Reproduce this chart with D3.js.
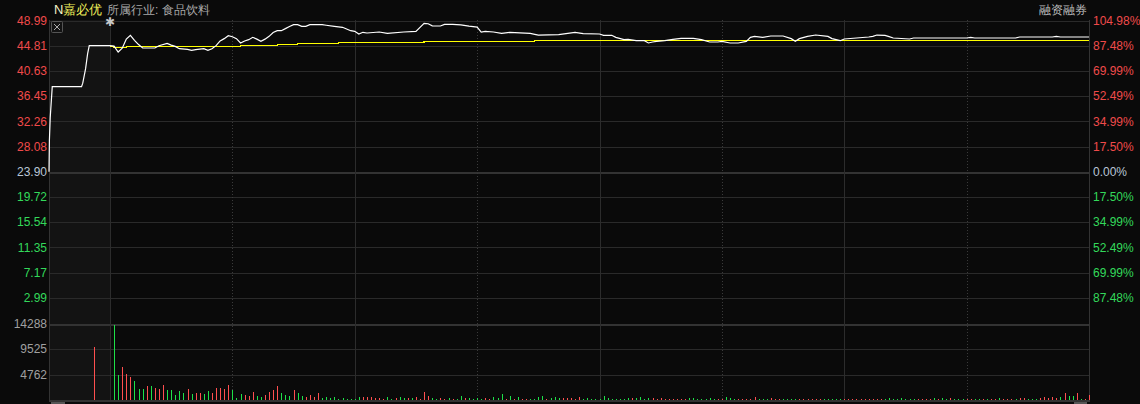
<!DOCTYPE html>
<html><head><meta charset="utf-8">
<script src="https://cdn.jsdelivr.net/npm/d3@7"></script>
<style>
html,body{margin:0;padding:0;background:#0a0a0a;overflow:hidden;}
text{font-family:"Liberation Sans",Arial,sans-serif;}
</style></head>
<body>
<svg id="c" width="1140" height="404"></svg>
<script>
// ---------- data ----------
const stockName = "嘉必优";
const industryText = "所属行业: 食品饮料";
const marginText = "融资融券";
const preClose = 23.90;
const priceTicks = [48.99,44.81,40.63,36.45,32.26,28.08,23.90,19.72,15.54,11.35,7.17,2.99];
const pctLabels = ["104.98%","87.48%","69.99%","52.49%","34.99%","17.50%","0.00%","17.50%","34.99%","52.49%","69.99%","87.48%"];
const volTicks = [14288,9525,4762];

// pre-market (call auction) price path: minute after 9:15, price
const preMin   = [0, 0.1, 0.3, 0.8, 8.0, 8.3, 9.0, 9.5, 9.9, 15];
const prePrice = [23.90, 29.17, 32.87, 38.01, 38.01, 38.6, 41.0, 43.5, 44.81, 44.81];
const preVolMin = [11];
const preVol = [9869];

// intraday price: trading minute, price
const priceMin = [0,1,2,3,4,5,6,7,8,11,12,14,15,16,17,19,20,21,23,24,25,26,27,28,29,30,31,32,33,34,35,36,37,38,39,40,41,42,43,44,45,46,47,48,49,52,53,55,57,59,60,61,62,63,66,68,72,75,77,78,79,81,82,84,86,88,90,91,92,94,96,98,103,105,110,114,116,120,121,123,124,126,127,129,131,132,133,134,136,138,140,143,145,147,149,150,152,154,156,157,158,160,162,165,167,168,169,171,173,176,177,179,180,183,186,187,188,190,191,192,196,197,210,211,212,222,223,231,232,233,240];
const priceVal = [44.81,44.75,43.77,44.40,45.90,46.53,45.70,45.00,44.43,44.43,44.80,45.20,44.90,44.70,44.32,44.20,44.04,44.15,44.32,44.04,44.30,44.82,45.60,45.98,46.47,46.30,45.98,45.26,45.60,45.81,46.20,45.90,45.53,45.90,46.36,47.00,47.30,47.30,47.64,48.00,48.30,48.30,48.02,48.02,48.30,48.30,48.20,48.02,47.86,47.30,47.19,46.75,47.03,46.92,47.08,46.86,47.08,47.19,48.52,48.45,48.10,48.08,48.35,48.35,48.25,48.05,47.90,47.05,47.19,47.08,46.86,47.03,46.86,46.55,46.64,47.03,46.81,46.75,46.53,46.53,46.20,45.81,45.87,45.64,45.64,45.26,45.42,45.53,45.64,45.87,46.03,46.03,45.81,45.42,45.42,45.53,45.26,45.26,45.53,46.20,46.36,46.20,46.42,46.42,45.98,45.53,45.98,46.36,46.58,46.36,45.98,45.64,45.92,46.09,46.25,46.36,46.58,46.53,46.31,46.09,45.92,46.09,46.09,46.20,46.09,46.09,46.25,46.25,46.36,46.25,46.25];

// average price (step changes)
const avgMin = [0,1,4,7,32,41,46,56,77,104,178,240];
const avgVal = [44.81,44.60,44.70,44.84,44.98,45.10,45.26,45.40,45.54,45.70,45.76,45.76];

// volume per trading minute 1..240
const volumes = [
14040,4620,6180,4870,4240,3560,2060,2060,2620,2620,2250,2060,2810,1870,1870,940,1690,1310,2060,1120,
1310,1310,1120,1690,1310,2250,2250,2060,2810,1870,375,1120,940,750,1500,750,560,940,1500,1870,
2620,1310,940,750,1870,1310,750,560,940,560,1310,375,560,375,560,190,375,190,190,190,
560,560,560,560,375,375,190,560,190,375,560,375,375,375,560,190,1500,750,375,190,
375,190,375,190,190,750,375,375,190,375,190,375,190,560,375,1120,190,750,190,560,
190,190,190,190,560,750,190,375,560,375,375,375,375,190,560,190,375,190,190,190,
750,375,190,190,190,190,375,375,375,560,190,375,375,190,375,190,190,190,190,190,
190,375,375,190,190,190,375,190,190,190,560,375,190,190,190,190,190,560,190,190,
190,375,190,190,190,190,190,190,190,190,190,190,190,190,190,190,190,190,190,190,
190,190,190,190,190,190,190,190,190,190,375,190,190,375,190,190,190,190,190,190,
190,375,190,375,190,375,190,190,190,190,190,190,190,190,190,190,190,375,190,190,
190,190,375,375,190,190,190,375,560,375,560,375,560,1310,750,750,1310,190,120,940];
// direction per minute (r = up / red, g = down / green), 10 minutes per group
const volDir = [
"ggrrrgggrg","rrrgggggrg","rrggrrrrrg","ggrrrggrrr","rgggrggrrr","rggggggggg",
"grrrrrrggr","ggrgrrrrgg","rrgrggrggg","grrgggrgrg","rrggggrggg","rrrrrggggg",
"gggggggrgg","ggrrrrrrrr","rgggggggrr","gggrrrrrgg","grrrggggrr","rrrrgggggr",
"rrrrrrrrrg","gggggggrrr","rgrggrgggr","rggrgrrgrr","rgrrgggrrr","rrgrggrgrr"
].join("");

// ---------- drawing ----------
const svg = d3.select("#c");
const L = 49, R = 1089, XO = 110;
const xPre = d3.scaleLinear().domain([0,15]).range([L, XO]);
const x = d3.scaleLinear().domain([0,240]).range([XO, R]);
const yP = d3.scaleLinear().domain([priceTicks[priceTicks.length-1]-(priceTicks[0]-priceTicks[1]), priceTicks[0]]).range([323, 20.5]);
const yV = d3.scaleLinear().domain([0, volTicks[0]]).range([400, 323.7]);

svg.append("rect").attr("x",0).attr("y",0).attr("width",1140).attr("height",404).attr("fill","#0a0a0a");
svg.append("rect").attr("x",L).attr("y",20).attr("width",XO-L).attr("height",380).attr("fill","#131313");

const grid = svg.append("g").attr("shape-rendering","crispEdges");
const snap = v => Math.round(v)+0.5;
priceTicks.forEach((t,i)=>{
  const thick = (t===preClose);
  grid.append("line").attr("x1",L).attr("x2",R).attr("y1",snap(yP(t))).attr("y2",snap(yP(t)))
    .attr("stroke", thick? "#333":"#2a2a2a").attr("stroke-width", thick?2:1);
});
volTicks.forEach((t,i)=>{
  const thick = i===0;
  grid.append("line").attr("x1",L).attr("x2",R).attr("y1",snap(yV(t))).attr("y2",snap(yV(t)))
    .attr("stroke", thick? "#333":"#2a2a2a").attr("stroke-width", thick?2:1);
});
grid.append("line").attr("x1",L).attr("x2",R).attr("y1",400.5).attr("y2",400.5).attr("stroke","#333").attr("stroke-width",2);
// vertical lines
[0,60,120,180].forEach(m=>{
  grid.append("line").attr("x1",snap(x(m))).attr("x2",snap(x(m))).attr("y1",20).attr("y2",400).attr("stroke","#2c2c2c");
});
[30,90,150,210].forEach(m=>{
  grid.append("line").attr("x1",snap(x(m))).attr("x2",snap(x(m))).attr("y1",20).attr("y2",400).attr("stroke","#3a3a3a").attr("stroke-dasharray","1,2");
});
grid.append("line").attr("x1",L+0.5).attr("x2",L+0.5).attr("y1",20).attr("y2",402).attr("stroke","#333");
grid.append("line").attr("x1",R+0.5).attr("x2",R+0.5).attr("y1",20).attr("y2",402).attr("stroke","#333");

// axes
const colP = i => i<6 ? "#f04a4a" : (i===6 ? "#b9c6d6" : "#33d95a");
const axL = svg.append("g").attr("transform",`translate(${L},0)`)
  .call(d3.axisLeft(yP).tickValues(priceTicks).tickSize(0).tickPadding(2).tickFormat(d3.format(".2f")));
axL.select(".domain").remove();
axL.selectAll("text").attr("font-size",12).attr("font-family",'"Liberation Sans",Arial,sans-serif').attr("fill",(d,i)=>colP(i));
const axR = svg.append("g").attr("transform",`translate(${R},0)`)
  .call(d3.axisRight(yP).tickValues(priceTicks).tickSize(0).tickPadding(4).tickFormat((d,i)=>pctLabels[i]));
axR.select(".domain").remove();
axR.selectAll("text").attr("font-size",12).attr("font-family",'"Liberation Sans",Arial,sans-serif').attr("fill",(d,i)=>colP(i));
const axV = svg.append("g").attr("transform",`translate(${L},0)`)
  .call(d3.axisLeft(yV).tickValues(volTicks).tickSize(0).tickPadding(2).tickFormat(d3.format("d")));
axV.select(".domain").remove();
axV.selectAll("text").attr("font-size",12).attr("font-family",'"Liberation Sans",Arial,sans-serif').attr("fill","#a0a0a0");

// volume bars
const vg = svg.append("g").attr("shape-rendering","crispEdges");
vg.selectAll("rect.v").data(volumes).join("rect").attr("class","v")
  .attr("x",(d,i)=>Math.round(x(i+1))).attr("width",1)
  .attr("y",d=>Math.round(yV(d))).attr("height",d=>400-Math.round(yV(d)))
  .attr("fill",(d,i)=>volDir[i]==="r"?"#ff4f4f":"#1ee048");
vg.selectAll("rect.p").data(preVol).join("rect").attr("class","p")
  .attr("x",(d,i)=>Math.round(xPre(preVolMin[i]))).attr("width",1)
  .attr("y",d=>Math.round(yV(d))).attr("height",d=>400-Math.round(yV(d))).attr("fill","#ff4f4f");

// price lines
const prePts = preMin.map((m,i)=>[xPre(m), yP(prePrice[i])]);
svg.append("path").attr("d", d3.line()(prePts)).attr("fill","none").attr("stroke","#ffffff").attr("stroke-width",1.2);
const avgPts = avgMin.map((m,i)=>[x(m), Math.round(yP(avgVal[i]))+0.5]);
svg.append("path").attr("d", d3.line().curve(d3.curveStepAfter)(avgPts)).attr("fill","none").attr("stroke","#ffff00").attr("stroke-width",1.3).attr("shape-rendering","crispEdges");
const pts = priceMin.map((m,i)=>[x(m), yP(priceVal[i])]);
svg.append("path").attr("d", d3.line()(pts)).attr("fill","none").attr("stroke","#ffffff").attr("stroke-width",1.2);

// header
const t = svg.append("text").attr("x",54).attr("y",14).attr("font-size",13).attr("font-family",'"Noto Sans CJK SC",sans-serif');
t.append("tspan").attr("fill","#f4f4c8").text("N");
t.append("tspan").attr("fill","#f0f05a").text(stockName);
svg.append("text").attr("x",107).attr("y",14).attr("font-size",12).attr("fill","#a8a8a8")
  .attr("font-family",'"Noto Sans CJK SC",sans-serif').text(industryText);
svg.append("text").attr("x",1087).attr("y",14).attr("text-anchor","end").attr("font-size",12).attr("fill","#bdbdbd")
  .attr("font-family",'"Noto Sans CJK SC",sans-serif').text(marginText);

// marker and close box
svg.append("text").attr("x",XO).attr("y",26).attr("text-anchor","middle").attr("font-size",12).attr("fill","#c8c8c8").text("✱");
svg.append("rect").attr("x",51.5).attr("y",21.5).attr("width",11).attr("height",11).attr("fill","none").attr("stroke","#555").attr("rx",1);
svg.append("path").attr("d","M54,24L60,30M60,24L54,30").attr("stroke","#aaa").attr("stroke-width",1);
// scrollbar stubs
svg.append("rect").attr("x",51).attr("y",402).attr("width",14).attr("height",2).attr("fill","#555");
svg.append("rect").attr("x",1074).attr("y",402).attr("width",13).attr("height",2).attr("fill","#555");
</script>
</body></html>
